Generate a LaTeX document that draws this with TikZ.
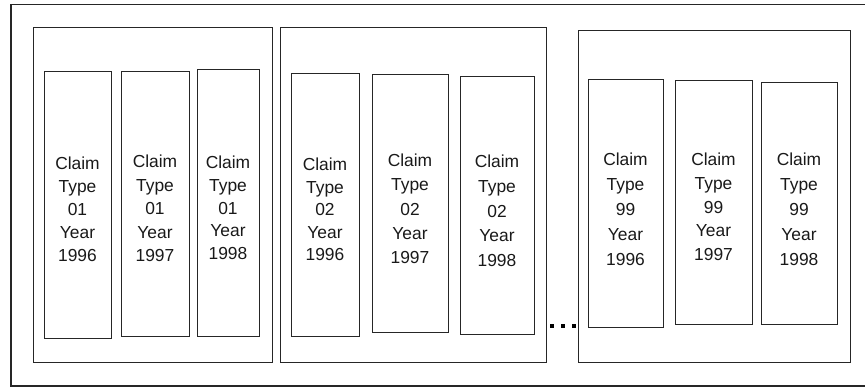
\documentclass[tikz,border=0pt]{standalone}
\usepackage{fontspec}
\setmainfont{Liberation Sans}
\begin{document}
\begin{tikzpicture}[x=1pt,y=-1pt,
  frame/.style={draw=black!85,line width=1.1pt},
  group/.style={draw=black!85,line width=1.1pt,inner sep=0pt,anchor=north west},
  cell/.style={draw=black!85,line width=1.1pt,inner sep=0pt,anchor=north west},
  celltext/.style={inner sep=0pt,anchor=north,align=center,text=black!90},
  dot/.style={fill=black,inner sep=0pt,minimum size=4pt}]
\useasboundingbox (0,0) rectangle (865,387);

% outer frame, open on the right where it runs off the page
\coordinate (otr) at (866,4.5);
\coordinate (otl) at (11,4.5);
\coordinate (obl) at (11,386);
\coordinate (obr) at (866,386);
\draw[frame] (otr) -- (otl) -- (obl) -- (obr);

% one group box per claim type
\foreach \n/\xl/\yt/\xr/\yb in {1/33/27/272/362, 2/280/27/546/362, 3/578/30/850/362}
  \node[group,minimum width={(\xr-\xl)*1pt},minimum height={(\yb-\yt)*1pt}] (g\n) at (\xl,\yt) {};

% one column per claim type and year
\foreach \n/\xl/\yt/\xr/\yb/\cy/\sp/\ct/\yr in {
  11/44/71/111/338/163/23/01/1996,
  12/121/71/189/336/161/23.5/01/1997,
  13/197/69/259/336/162/22.75/01/1998,
  21/291/73/359/336/164/22.5/02/1996,
  22/372/74/448/332/160/24.25/02/1997,
  23/460/76/534/334/161/24.75/02/1998,
  31/588/79/663/327/159/25/99/1996,
  32/675/80/752/324/159/23.75/99/1997,
  33/761/82/837/324/159/25/99/1998}
{
  \node[cell,minimum width={(\xr-\xl)*1pt},minimum height={(\yb-\yt)*1pt}] (b\n) at (\xl,\yt) {};
  \node[celltext,font={\fontsize{17.4}{\sp}\selectfont}] (t\n) at ({(\xl+\xr)/2},\cy-6.3)
    {Claim\\Type\\\ct\\Year\\\yr};
}

% ellipsis between the second and last group
\node[dot] (d1) at (551.5,326) {};
\node[dot] (d2) at (562.5,326) {};
\node[dot] (d3) at (573.5,326) {};
\end{tikzpicture}
\end{document}
